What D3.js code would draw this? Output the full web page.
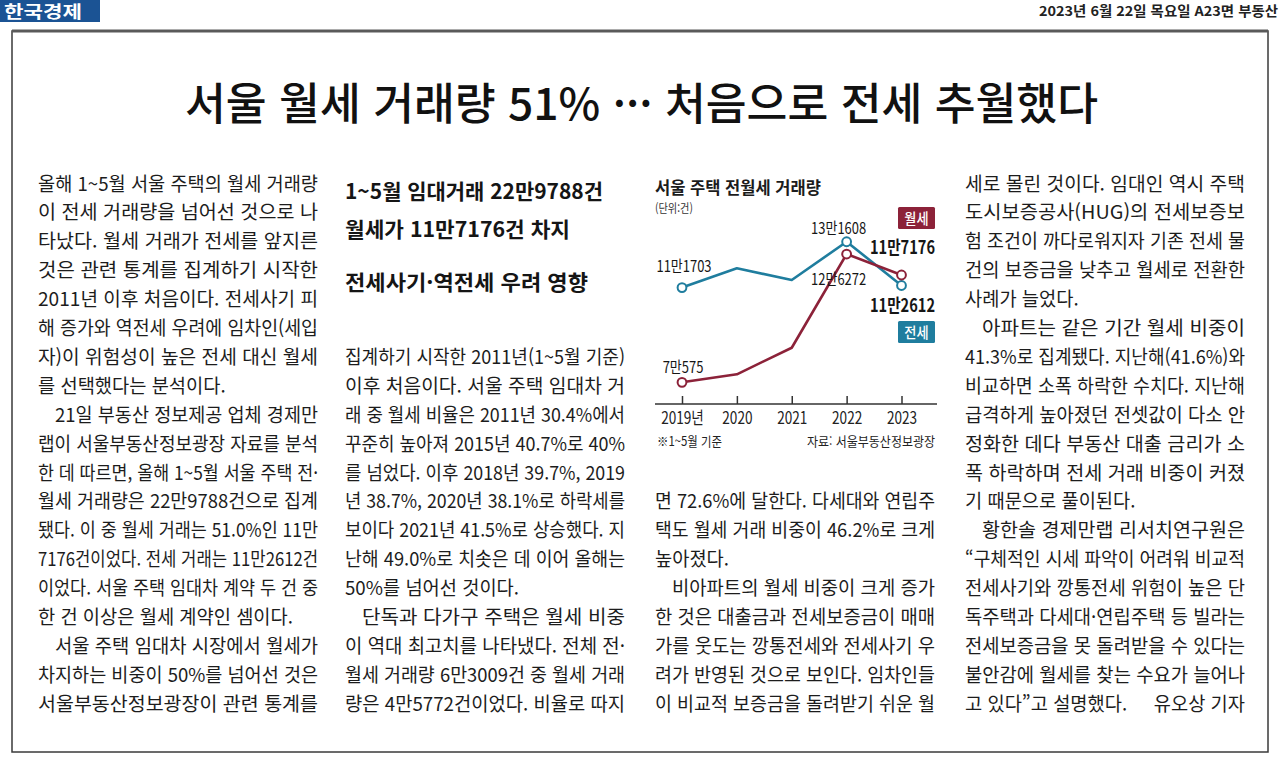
<!DOCTYPE html>
<html lang="ko">
<head>
<meta charset="utf-8">
<script src="https://cdn.jsdelivr.net/npm/d3@7"></script>
<style>
html, body { margin: 0; padding: 0; background: #fff; }
svg { display: block; }
text { font-family: "Noto Sans CJK KR", "Noto Sans", sans-serif; fill: #1c1c1c; }
</style>
</head>
<body>
<svg id="page" width="1280" height="762"></svg>
<script>
// chart data (1~5월, 건)
var years = ["2019", "2020", "2021", "2022", "2023"];
var yearLabels = ["2019년", "2020", "2021", "2022", "2023"];
var wolse = [70575, 74050, 85600, 126272, 117176];
var jeonse = [111703, 120060, 114980, 131608, 112612];
var markedYears = ["2019", "2022", "2023"];
var seriesNames = ["월세", "전세"];

var chartTitle = "서울 주택 전월세 거래량";
var unitText = "(단위:건)";
var noteText = "※1~5월 기준";
var sourceText = "자료: 서울부동산정보광장";

// page text
var headline = "서울 월세 거래량 51% ··· 처음으로 전세 추월했다";
var paperName = "한국경제";
var dateLine = "2023년 6월 22일 목요일 A23면 부동산";
var subheads = ["1~5월 임대거래 22만9788건", "월세가 11만7176건 차지", "전세사기·역전세 우려 영향"];
var byline = "유오상 기자";

var col1 = [
    { indent: false, open: false, lines: [
        "올해 1~5월 서울 주택의 월세 거래량",
        "이 전세 거래량을 넘어선 것으로 나",
        "타났다. 월세 거래가 전세를 앞지른",
        "것은 관련 통계를 집계하기 시작한",
        "2011년 이후 처음이다. 전세사기 피",
        "해 증가와 역전세 우려에 임차인(세입",
        "자)이 위험성이 높은 전세 대신 월세",
        "를 선택했다는 분석이다."] },
    { indent: true, open: false, lines: [
        "21일 부동산 정보제공 업체 경제만",
        "랩이 서울부동산정보광장 자료를 분석",
        "한 데 따르면, 올해 1~5월 서울 주택 전·",
        "월세 거래량은 22만9788건으로 집계",
        "됐다. 이 중 월세 거래는 51.0%인 11만",
        "7176건이었다. 전세 거래는 11만2612건",
        "이었다. 서울 주택 임대차 계약 두 건 중",
        "한 건 이상은 월세 계약인 셈이다."] },
    { indent: true, open: true, lines: [
        "서울 주택 임대차 시장에서 월세가",
        "차지하는 비중이 50%를 넘어선 것은",
        "서울부동산정보광장이 관련 통계를"] }
];
var col2 = [
    { indent: false, open: false, lines: [
        "집계하기 시작한 2011년(1~5월 기준)",
        "이후 처음이다. 서울 주택 임대차 거",
        "래 중 월세 비율은 2011년 30.4%에서",
        "꾸준히 높아져 2015년 40.7%로 40%",
        "를 넘었다. 이후 2018년 39.7%, 2019",
        "년 38.7%, 2020년 38.1%로 하락세를",
        "보이다 2021년 41.5%로 상승했다. 지",
        "난해 49.0%로 치솟은 데 이어 올해는",
        "50%를 넘어선 것이다."] },
    { indent: true, open: true, lines: [
        "단독과 다가구 주택은 월세 비중",
        "이 역대 최고치를 나타냈다. 전체 전·",
        "월세 거래량 6만3009건 중 월세 거래",
        "량은 4만5772건이었다. 비율로 따지"] }
];
var col3 = [
    { indent: false, open: false, lines: [
        "면 72.6%에 달한다. 다세대와 연립주",
        "택도 월세 거래 비중이 46.2%로 크게",
        "높아졌다."] },
    { indent: true, open: true, lines: [
        "비아파트의 월세 비중이 크게 증가",
        "한 것은 대출금과 전세보증금이 매매",
        "가를 웃도는 깡통전세와 전세사기 우",
        "려가 반영된 것으로 보인다. 임차인들",
        "이 비교적 보증금을 돌려받기 쉬운 월"] }
];
var col4 = [
    { indent: false, open: false, lines: [
        "세로 몰린 것이다. 임대인 역시 주택",
        "도시보증공사(HUG)의 전세보증보",
        "험 조건이 까다로워지자 기존 전세 물",
        "건의 보증금을 낮추고 월세로 전환한",
        "사례가 늘었다."] },
    { indent: true, open: false, lines: [
        "아파트는 같은 기간 월세 비중이",
        "41.3%로 집계됐다. 지난해(41.6%)와",
        "비교하면 소폭 하락한 수치다. 지난해",
        "급격하게 높아졌던 전셋값이 다소 안",
        "정화한 데다 부동산 대출 금리가 소",
        "폭 하락하며 전세 거래 비중이 커졌",
        "기 때문으로 풀이된다."] },
    { indent: true, open: false, lines: [
        "황한솔 경제만랩 리서치연구원은",
        "“구체적인 시세 파악이 어려워 비교적",
        "전세사기와 깡통전세 위험이 높은 단",
        "독주택과 다세대·연립주택 등 빌라는",
        "전세보증금을 못 돌려받을 수 있다는",
        "불안감에 월세를 찾는 수요가 늘어나",
        "고 있다”고 설명했다."] }
];

var WOLSE_COLOR = "#8c2239";
var JEONSE_COLOR = "#1f7d9e";

// y of the text baseline for a glyph centred on c
function base(c, fs) { return c + 0.37 * fs; }

// squeeze text to a width (or to a share of its natural width), keeping the anchor
function fit(sel, anchor, factor, width) {
    sel.each(function(d, i) {
        var node = d3.select(this);
        var w = this.getComputedTextLength();
        var t = width ? (typeof width == "function" ? width(d, i) : width) : w * factor;
        var x = +node.attr("x");
        if (anchor == "middle") x = x - t / 2;
        if (anchor == "end") x = x - t;
        node.attr("x", x).attr("text-anchor", "start")
            .attr("textLength", t).attr("lengthAdjust", "spacingAndGlyphs");
    });
}

document.fonts.ready.then(draw);

function draw() {
    var svg = d3.select("#page");

    // masthead
    svg.append("rect").attr("x", 0).attr("y", 0).attr("width", 100).attr("height", 22)
        .attr("fill", "#1b5394");
    svg.append("text").attr("x", 4).attr("y", base(11.5, 16.5))
        .style("font-size", "16.5px").style("font-weight", 700).style("fill", "#fff")
        .text(paperName).call(fit, "start", 1, 78);
    svg.append("text").attr("x", 1278).attr("y", base(11.5, 13.5))
        .style("font-size", "13.5px").style("font-weight", 700).style("fill", "#222")
        .text(dateLine).call(fit, "end", 1, 239);

    // frame
    svg.append("rect").attr("x", 12).attr("y", 31).attr("width", 1256).attr("height", 721)
        .attr("fill", "none").attr("stroke", "#3a3a3a").attr("stroke-width", 1.5);
    svg.append("line").attr("x1", 12).attr("x2", 1268).attr("y1", 31).attr("y2", 31)
        .attr("stroke", "#5a5a5a").attr("stroke-width", 3);

    // headline
    svg.append("text").attr("x", 185).attr("y", base(103.5, 44))
        .style("font-size", "44px").style("font-weight", 500).style("fill", "#111")
        .text(headline).call(fit, "start", 1, 913);

    // subheads (col 2)
    var subY = [191.5, 229, 282.5], subW = [258, 225, 243];
    svg.append("g").selectAll("text").data(subheads).join("text")
        .attr("x", 345).attr("y", function(d, i) { return base(subY[i], 21); })
        .style("font-size", "21px").style("font-weight", 700).style("fill", "#151515")
        .text(function(d) { return d; })
        .call(fit, "start", 1, function(d, i) { return subW[i]; });

    drawBody(svg);
    drawChart(svg);
}

function drawBody(svg) {
    var colW = 280, indent = 17, fs = 19;
    var columns = [
        { x: 38, k0: 0, paras: col1 },
        { x: 345, k0: 6, paras: col2 },
        { x: 655, k0: 11, paras: col3 },
        { x: 965, k0: 0, paras: col4 }
    ];
    var rows = [];
    columns.forEach(function(c) {
        var k = c.k0;
        c.paras.forEach(function(p) {
            p.lines.forEach(function(s, j) {
                var first = j == 0 && p.indent;
                var last = j == p.lines.length - 1 && !p.open;
                rows.push({ text: s, x: c.x + (first ? indent : 0), k: k,
                            w: colW - (first ? indent : 0), full: !last });
                k++;
            });
        });
    });

    var g = svg.append("g").style("font-size", fs + "px");
    var t = g.selectAll("text").data(rows).join("text")
        .attr("x", function(d) { return d.x; })
        .attr("y", function(d) { return base(183.5 + 28.9 * d.k, fs); })
        .text(function(d) { return d.text; });

    // squeeze ratio of the justified lines, reused on the short lines
    var ratios = [];
    t.each(function(d) {
        d.nat = this.getComputedTextLength();
        if (d.full) ratios.push(d.w / d.nat);
    });
    var r = d3.median(ratios);
    t.call(fit, "start", 1, function(d) { return d.full ? d.w : d.nat * r; });

    g.append("text").attr("x", 1245).attr("y", base(183.5 + 28.9 * 18, fs))
        .text(byline).call(fit, "end", r);
}

function drawChart(svg) {
    var x = d3.scalePoint().domain(years).range([682, 901.5]);
    var y = d3.scaleLinear().domain([60000, 140000]).range([406.7, 222.4]);
    var g = svg.append("g");

    g.append("text").attr("x", 655).attr("y", base(187.5, 16.5))
        .style("font-size", "16.5px").style("font-weight", 700)
        .text(chartTitle).call(fit, "start", 1, 166);
    g.append("text").attr("x", 655).attr("y", base(208.5, 12))
        .style("font-size", "12px").style("fill", "#333")
        .text(unitText).call(fit, "start", 0.85);

    // axis: baseline plus short ticks pointing up
    g.append("line").attr("x1", 655).attr("x2", 937).attr("y1", 404).attr("y2", 404)
        .attr("stroke", "#333").attr("stroke-width", 1.5);
    var ax = g.append("g").attr("transform", "translate(0,404)")
        .call(d3.axisBottom(x).tickSizeInner(-8).tickSizeOuter(0)
            .tickFormat(function(d, i) { return yearLabels[i]; }));
    ax.attr("font-size", null).attr("font-family", null);
    ax.select(".domain").remove();
    ax.selectAll(".tick line").attr("stroke", "#333").attr("stroke-width", 1.5);
    ax.selectAll(".tick text").attr("y", 14 + 0.37 * 17).attr("dy", null)
        .style("font-size", "17px").style("fill", "#222")
        .call(fit, "middle", 0.8);

    var line = d3.line()
        .x(function(d, i) { return x(years[i]); })
        .y(function(d) { return y(d); });

    var series = [
        { name: seriesNames[1], values: jeonse, color: JEONSE_COLOR },
        { name: seriesNames[0], values: wolse, color: WOLSE_COLOR }
    ];
    series.forEach(function(s) {
        g.append("path").datum(s.values).attr("d", line)
            .attr("fill", "none").attr("stroke", s.color).attr("stroke-width", 2.6)
            .attr("stroke-linejoin", "round");
        var pts = s.values.map(function(v, i) { return { year: years[i], v: v }; })
            .filter(function(p) { return markedYears.indexOf(p.year) >= 0; });
        g.selectAll(null).data(pts).join("circle")
            .attr("cx", function(p) { return x(p.year); })
            .attr("cy", function(p) { return y(p.v); })
            .attr("r", 4.4).attr("fill", "#fff")
            .attr("stroke", s.color).attr("stroke-width", 2);
    });

    // value labels, placed next to their points
    function man(v) { return Math.floor(v / 10000) + "만" + (v % 10000); }
    var spots = [
        { vals: jeonse, i: 0, dx: 2, dy: -21.5, bold: false },
        { vals: wolse, i: 0, dx: 1, dy: -15, bold: false },
        { vals: jeonse, i: 3, dx: -8, dy: -14, bold: false },
        { vals: wolse, i: 3, dx: -8, dy: 25, bold: false },
        { vals: wolse, i: 4, dx: 1, dy: -27.5, bold: true },
        { vals: jeonse, i: 4, dx: 1, dy: 19.5, bold: true }
    ];
    g.selectAll(null).data(spots).join("text")
        .attr("x", function(d) { return x(years[d.i]) + d.dx; })
        .attr("y", function(d) {
            var fs = d.bold ? 18 : 16;
            return base(y(d.vals[d.i]) + d.dy, fs);
        })
        .style("font-size", function(d) { return d.bold ? "18px" : "16px"; })
        .style("font-weight", function(d) { return d.bold ? 700 : 400; })
        .style("fill", "#161616")
        .text(function(d) { return man(d.vals[d.i]); })
        .call(fit, "middle", 0.81);

    // legend tags
    var tags = [
        { name: seriesNames[0], color: WOLSE_COLOR, y: 207 },
        { name: seriesNames[1], color: JEONSE_COLOR, y: 321 }
    ];
    var tg = g.selectAll(null).data(tags).join("g");
    tg.append("rect").attr("x", 898).attr("y", function(d) { return d.y; })
        .attr("width", 37).attr("height", 22).attr("rx", 1.5)
        .attr("fill", function(d) { return d.color; });
    tg.append("text").attr("x", 916.5).attr("y", function(d) { return base(d.y + 11, 15); })
        .style("font-size", "15px").style("font-weight", 500).style("fill", "#fff")
        .text(function(d) { return d.name; })
        .call(fit, "middle", 0.88);

    g.append("text").attr("x", 657).attr("y", base(441.5, 13))
        .style("font-size", "13px").style("fill", "#222")
        .text(noteText).call(fit, "start", 1, 65);
    g.append("text").attr("x", 935).attr("y", base(441.5, 13))
        .style("font-size", "13px").style("fill", "#222")
        .text(sourceText).call(fit, "end", 1, 128);
}
</script>
</body>
</html>
